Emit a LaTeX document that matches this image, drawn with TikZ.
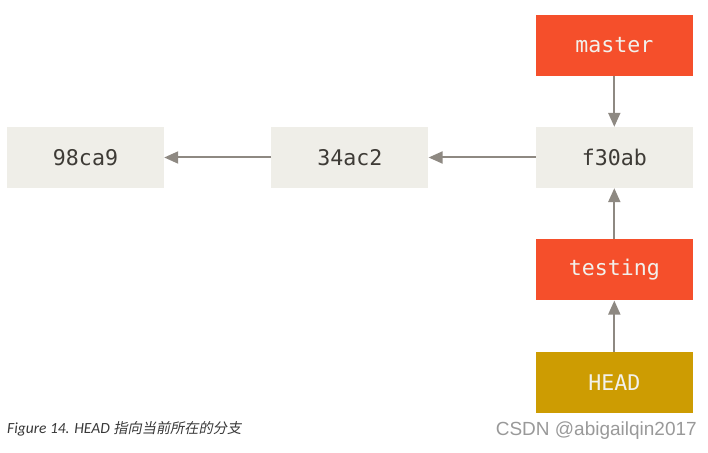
\documentclass[tikz,border=0pt]{standalone}
\usepackage{fontspec}
\setmonofont{DejaVu Sans Mono}
\newfontfamily\capfont{Carlito}
\newfontfamily\cjk[FakeSlant=0.2]{Noto Sans CJK SC}
\newfontfamily\wmfont{Liberation Sans}
\usetikzlibrary{positioning, arrows.meta}

\definecolor{commitbg}{HTML}{EFEEE8}
\definecolor{commitfg}{HTML}{3E3B36}
\definecolor{branchbg}{HTML}{F54F2B}
\definecolor{headbg}{HTML}{CD9C02}
\definecolor{lightfg}{HTML}{F2F1EC}
\definecolor{arrowgray}{HTML}{8E8982}

\begin{document}
\begin{tikzpicture}[x=1pt,y=1pt,node distance=51pt and 107pt]
    \tikzstyle{commit} = [rectangle,minimum width=157pt,minimum height=61pt,inner sep=0pt,text centered,fill=commitbg,text=commitfg,font=\fontsize{21.6}{24}\selectfont\ttfamily]
    \tikzstyle{branch} = [commit,fill=branchbg,text=lightfg]
    \tikzstyle{head} = [commit,fill=headbg,text=lightfg]
    \tikzstyle{ptr} = [draw=arrowgray,line width=2pt,-{Triangle[width=12pt,length=14pt]}]

    \useasboundingbox (0,0) rectangle (708,452);

    \node (c1) [commit] at (85.5,294.5) {98ca9};
    \node (c2) [commit,right=of c1] {34ac2};
    \node (c3) [commit,right=of c2] {f30ab};
    \draw [ptr] (c2) -- (c1);
    \draw [ptr] (c3) -- (c2);

    \node (master) [branch,above=of c3] {master};
    \draw [ptr] (master) -- (c3);

    \node (testing) [branch,below=of c3] {testing};
    \draw [ptr] (testing) -- (c3);

    \node (head) [head,below=of testing] {HEAD};
    \draw [ptr] (head) -- (testing);

    \node (caption) [anchor=base west,inner sep=0pt,text=black!78,font=\fontsize{15.5}{17}\selectfont\capfont\itshape] at (7,19) {Figure 14. HEAD {\cjk\fontsize{14.2}{17}\selectfont 指向当前所在的分支}};
    \node (mark) [anchor=base east,inner sep=0pt,text=black!40,font=\fontsize{19}{21}\selectfont\wmfont] at (697,17) {CSDN @abigailqin2017};

\end{tikzpicture}
\end{document}
